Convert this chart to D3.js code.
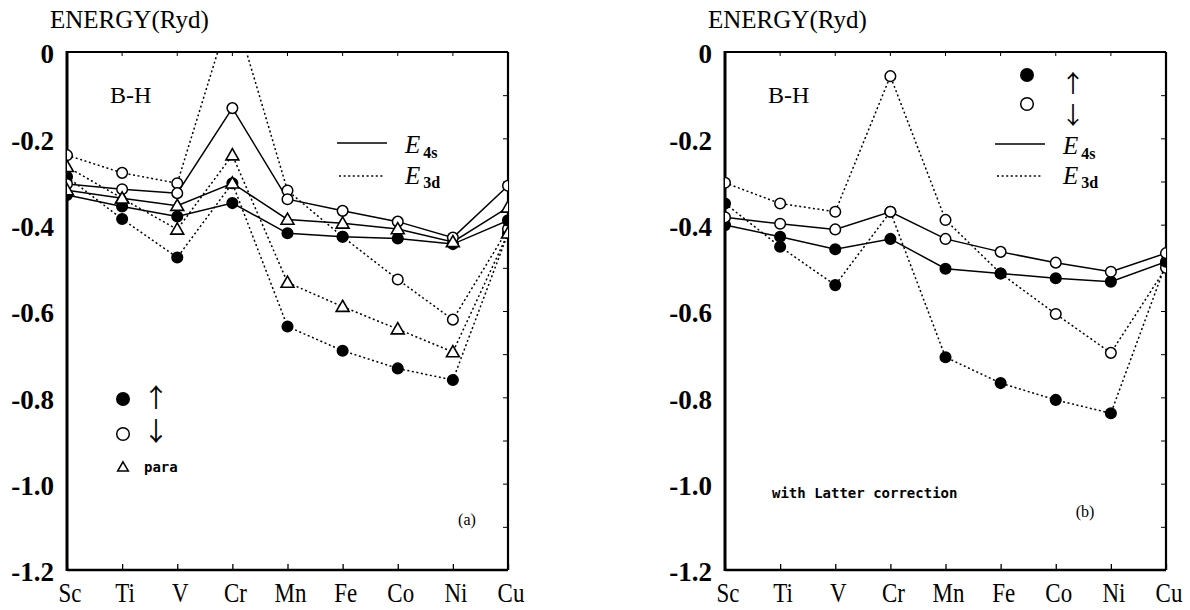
<!DOCTYPE html>
<html><head><meta charset="utf-8">
<script src="https://cdn.jsdelivr.net/npm/d3@7/dist/d3.min.js"></script>
<style>body{margin:0;background:#fff}svg{display:block}</style>
</head><body>
<svg id="c" width="1190" height="610"></svg>
<script>
const categories = ["Sc","Ti","V","Cr","Mn","Fe","Co","Ni","Cu"];
const yTicks = [0,-0.2,-0.4,-0.6,-0.8,-1.0,-1.2];
const yTickLabels = ["0","-0.2","-0.4","-0.6","-0.8","-1.0","-1.2"];
const minorTicks = [-0.1,-0.2,-0.3,-0.4,-0.5,-0.6,-0.7,-0.8,-0.9,-1.0,-1.1];

// panel (a)
const a_up_4s   = [-0.331,-0.358,-0.381,-0.350,-0.420,-0.428,-0.432,-0.445,-0.390];
const a_down_4s = [-0.306,-0.318,-0.327,-0.130,-0.341,-0.368,-0.393,-0.430,-0.310];
const a_para_4s = [-0.320,-0.339,-0.356,-0.304,-0.388,-0.397,-0.410,-0.440,-0.360];
const a_up_3d   = [-0.289,-0.387,-0.476,-0.304,-0.636,-0.692,-0.733,-0.760,-0.420];
const a_down_3d = [-0.239,-0.280,-0.304, 0.110,-0.321,-0.428,-0.527,-0.620,-0.410];
const a_para_3d = [-0.266,-0.339,-0.411,-0.239,-0.534,-0.590,-0.642,-0.695,-0.420];
// panel (b)
const b_up_4s   = [-0.401,-0.428,-0.457,-0.433,-0.502,-0.513,-0.524,-0.532,-0.486];
const b_down_4s = [-0.383,-0.398,-0.411,-0.370,-0.433,-0.463,-0.488,-0.509,-0.466];
const b_up_3d   = [-0.351,-0.451,-0.540,-0.370,-0.707,-0.767,-0.806,-0.837,-0.490];
const b_down_3d = [-0.303,-0.351,-0.370,-0.056,-0.389,-0.513,-0.607,-0.697,-0.500];

const svg = d3.select("#c");
const serif = "'Liberation Serif','Times New Roman',serif";

function panel(opts) {
  const {x0, x1, y0, y1, id, series} = opts;
  const x = d3.scalePoint().domain(categories).range([x0, x1]);
  const y = d3.scaleLinear().domain([-1.2, 0]).range([y1, y0]);
  const g = svg.append("g");
  g.append("clipPath").attr("id", id).append("rect")
    .attr("x", x0).attr("y", y0).attr("width", x1 - x0).attr("height", y1 - y0);

  // frame
  g.append("line").attr("x1", x0).attr("x2", x0).attr("y1", y0 - 1).attr("y2", y1 + 1).attr("stroke", "#000").attr("stroke-width", 3);
  g.append("line").attr("x1", x0).attr("x2", x1).attr("y1", y1).attr("y2", y1).attr("stroke", "#000").attr("stroke-width", 2.6);
  g.append("line").attr("x1", x0).attr("x2", x1).attr("y1", y0).attr("y2", y0).attr("stroke", "#000").attr("stroke-width", 2);
  g.append("line").attr("x1", x1).attr("x2", x1).attr("y1", y0).attr("y2", y1).attr("stroke", "#000").attr("stroke-width", 2.2);

  // bottom axis ticks (inward) and labels
  const bottom = d3.axisBottom(x).tickSize(0).tickPadding(0);
  const bx = g.append("g").attr("transform", `translate(0,${y1})`).call(bottom);
  bx.select(".domain").remove();
  bx.selectAll(".tick text").remove();
  bx.selectAll(".tick").append("line").attr("y1", 0).attr("y2", -6).attr("stroke", "#000").attr("stroke-width", 1.3);
  bx.selectAll(".tick").filter((d,i)=> i===0 || i===categories.length-1).select("line").remove();
  categories.forEach(c => {
    g.append("text").attr("x", x(c) + 3).attr("y", 602)
      .attr("text-anchor", "middle").attr("font-family", serif).attr("font-size", 27)
      .attr("transform", `translate(${x(c)+3},0) scale(0.85,1) translate(${-(x(c)+3)},0)`)
      .text(c);
  });
  // top ticks (inward)
  categories.slice(1, -1).forEach(c => {
    g.append("line").attr("x1", x(c)).attr("x2", x(c)).attr("y1", y0).attr("y2", y0 + 4).attr("stroke", "#000").attr("stroke-width", 1);
  });
  // right axis minor ticks (inward)
  const ra = d3.axisLeft(y).tickValues(minorTicks).tickSize(5).tickFormat("");
  const rg = g.append("g").attr("transform", `translate(${x1},0)`).call(ra);
  rg.select(".domain").remove();
  rg.selectAll(".tick line").attr("stroke-width", 1);
  // left axis labels
  const la = d3.axisLeft(y).tickValues(yTicks).tickSize(0).tickPadding(13)
    .tickFormat((d, i) => yTickLabels[i]);
  const lg = g.append("g").attr("transform", `translate(${x0},0)`).call(la);
  lg.select(".domain").remove();
  lg.selectAll(".tick text").attr("font-family", serif).attr("font-size", 27)
    .attr("font-weight", "bold").attr("fill", "#000").attr("dy", "0.4em");

  // axis title
  g.append("text").attr("x", x0 - 17).attr("y", 28).attr("font-family", serif).attr("font-size", 25).text("ENERGY(Ryd)");
  // B-H
  g.append("text").attr("x", x0 + 43).attr("y", 103).attr("font-family", serif).attr("font-size", 24).text("B-H");

  const data = g.append("g").attr("clip-path", `url(#${id})`);
  const line = d3.line().x((d, i) => x(categories[i])).y(d => y(d));
  // lines
  series.forEach(s => {
    data.append("path").datum(s.values).attr("d", line).attr("fill", "none")
      .attr("stroke", "#000").attr("stroke-width", 1.5)
      .attr("stroke-dasharray", s.dotted ? "2,2.6" : null);
  });
  // markers: dotted series first, then solid
  const ordered = series.filter(s => s.dotted).concat(series.filter(s => !s.dotted));
  const tri = d3.symbol().type(d3.symbolTriangle).size(72);
  ordered.forEach(s => {
    const mg = data.append("g");
    s.values.forEach((v, i) => {
      const cx = x(categories[i]), cy = y(v);
      if (s.marker === "tri") {
        mg.append("path").attr("d", tri).attr("transform", `translate(${cx},${cy + 1})`)
          .attr("fill", "#fff").attr("stroke", "#000").attr("stroke-width", 1.6);
      } else {
        mg.append("circle").attr("cx", cx).attr("cy", cy).attr("r", 5.3)
          .attr("fill", s.marker === "filled" ? "#000" : "#fff")
          .attr("stroke", "#000").attr("stroke-width", 1.5);
      }
    });
  });
  return {x, y, g};
}

const A = panel({x0: 67, x1: 508, y0: 52, y1: 570, id: "clipA", series: [
  {values: a_up_4s, marker: "filled", dotted: false},
  {values: a_down_4s, marker: "open", dotted: false},
  {values: a_para_4s, marker: "tri", dotted: false},
  {values: a_up_3d, marker: "filled", dotted: true},
  {values: a_down_3d, marker: "open", dotted: true},
  {values: a_para_3d, marker: "tri", dotted: true}
]});
const B = panel({x0: 725, x1: 1166, y0: 52, y1: 570, id: "clipB", series: [
  {values: b_up_4s, marker: "filled", dotted: false},
  {values: b_down_4s, marker: "open", dotted: false},
  {values: b_up_3d, marker: "filled", dotted: true},
  {values: b_down_3d, marker: "open", dotted: true}
]});

function energyLegend(g, lx, ex, ySolid, yDot) {
  g.append("line").attr("x1", lx).attr("x2", lx + 50).attr("y1", ySolid).attr("y2", ySolid).attr("stroke", "#000").attr("stroke-width", 1.5);
  g.append("line").attr("x1", lx + 2).attr("x2", lx + 48).attr("y1", yDot).attr("y2", yDot).attr("stroke", "#000").attr("stroke-width", 1.5).attr("stroke-dasharray", "2,2.6");
  const t1 = g.append("text").attr("x", ex).attr("y", ySolid + 10).attr("font-family", serif);
  t1.append("tspan").attr("font-style", "italic").attr("font-size", 25).text("E");
  t1.append("tspan").attr("font-weight", "bold").attr("font-size", 16).attr("dx", 3).attr("dy", 5).text("4s");
  const t2 = g.append("text").attr("x", ex).attr("y", yDot + 8).attr("font-family", serif);
  t2.append("tspan").attr("font-style", "italic").attr("font-size", 25).text("E");
  t2.append("tspan").attr("font-weight", "bold").attr("font-size", 16).attr("dx", 3).attr("dy", 4).text("3d");
}
energyLegend(A.g, 337, 405, 143, 176);
energyLegend(B.g, 995, 1063, 144, 176);

const arrowFont = "'Noto Sans CJK JP','DejaVu Sans',sans-serif";
// left spin legend
A.g.append("circle").attr("cx", 123).attr("cy", 399).attr("r", 7).attr("fill", "#000");
A.g.append("circle").attr("cx", 123).attr("cy", 434).attr("r", 6.3).attr("fill", "#fff").attr("stroke", "#000").attr("stroke-width", 1.5);
A.g.append("text").attr("x", 156).attr("y", 407).attr("text-anchor", "middle").attr("font-family", arrowFont).attr("font-size", 26).text("↑");
A.g.append("text").attr("x", 156).attr("y", 441).attr("text-anchor", "middle").attr("font-family", arrowFont).attr("font-size", 26).text("↓");
A.g.append("path").attr("d", d3.symbol().type(d3.symbolTriangle).size(50)).attr("transform", "translate(123,468)")
  .attr("fill", "#fff").attr("stroke", "#000").attr("stroke-width", 1.5);
A.g.append("text").attr("x", 144).attr("y", 472).attr("font-family", "'DejaVu Sans Mono',monospace").attr("font-weight", "bold").attr("font-size", 14).text("para");
A.g.append("text").attr("x", 467).attr("y", 525).attr("text-anchor", "middle").attr("font-family", serif).attr("font-size", 16).text("(a)");

// right spin legend
B.g.append("circle").attr("cx", 1027).attr("cy", 75).attr("r", 7).attr("fill", "#000");
B.g.append("circle").attr("cx", 1027).attr("cy", 104).attr("r", 6.3).attr("fill", "#fff").attr("stroke", "#000").attr("stroke-width", 1.5);
B.g.append("text").attr("x", 1073).attr("y", 92).attr("text-anchor", "middle").attr("font-family", arrowFont).attr("font-size", 24).text("↑");
B.g.append("text").attr("x", 1073).attr("y", 124).attr("text-anchor", "middle").attr("font-family", arrowFont).attr("font-size", 24).text("↓");
B.g.append("text").attr("x", 772).attr("y", 498).attr("font-family", "'DejaVu Sans Mono',monospace").attr("font-weight", "bold").attr("font-size", 14).text("with Latter correction");
B.g.append("text").attr("x", 1085).attr("y", 517).attr("text-anchor", "middle").attr("font-family", serif).attr("font-size", 16).text("(b)");
</script>
</body></html>
